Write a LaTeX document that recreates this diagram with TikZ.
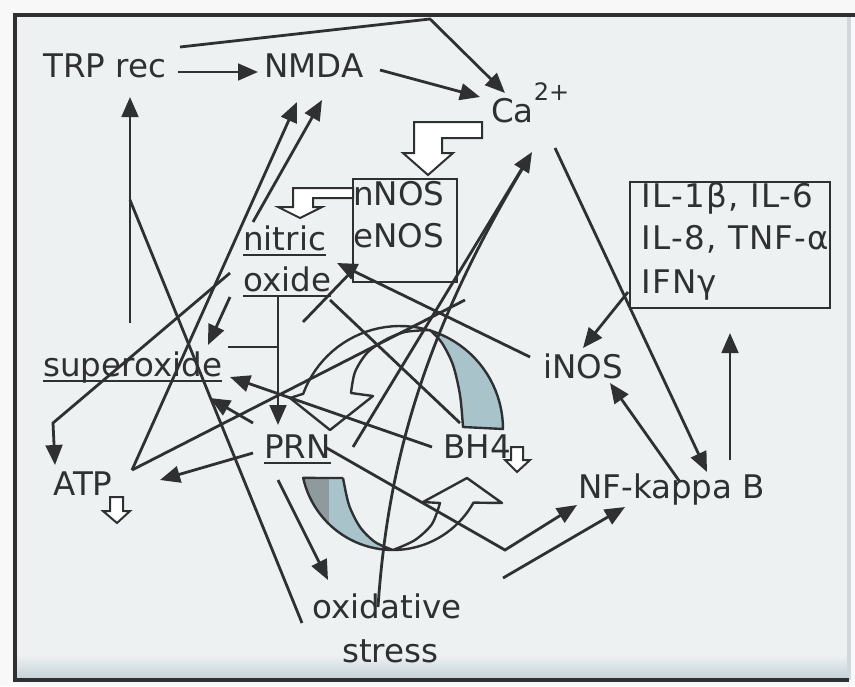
\documentclass[tikz,border=0pt]{standalone}
\usepackage{fontspec}
\setmainfont{DejaVu Sans}
\usetikzlibrary{arrows.meta}
\definecolor{ink}{HTML}{2E3032}
\definecolor{bgc}{HTML}{EEF1F2}
\definecolor{shadeA}{HTML}{A9C3CB}
\definecolor{shadeB}{HTML}{8F9A9F}
\definecolor{band}{HTML}{C6D3D9}
\definecolor{rimc}{HTML}{D0D8DC}
\definecolor{outside}{HTML}{F8F8F8}
\begin{document}
\begin{tikzpicture}[x=0.75pt,y=-0.75pt,
  lbl/.style={anchor=base west,inner sep=0pt,text=ink,font=\fontsize{24.4}{28}\selectfont},
  ln/.style={draw=ink,line width=2.1pt},
  arr/.style={ln,-{Triangle[length=15pt,width=12.5pt]}},
  hollow/.style={draw=ink,line width=1.5pt,fill=white,line join=miter},
  ulin/.style={draw=ink,line width=1.6pt},
  boxc/.style={draw=ink,line width=1.7pt},
  ribbon/.style={draw=ink,line width=1.8pt,line join=round}]

\useasboundingbox (0,0) rectangle (855,686);
\fill[outside] (0,0) rectangle (855,686);
\fill[bgc] (15,15) rectangle (849,680);
\shade[top color=bgc,bottom color=band] (17,655) rectangle (849,678);
\draw[rimc,line width=3pt] (849,15) -- (849,680);
\draw[ink,line width=3.6pt] (855,15) -- (15,15) -- (15,680) -- (849,680);

% ---------- shaded parts of the circular arrows ----------
\fill[shadeA] plot[domain=0:73.1,samples=25] ({400+103*cos(\x)},{429-103*sin(\x)})
  -- plot[smooth] coordinates {(430,330) (442,343) (453,365) (460,395) (463,427)} -- cycle;
\begin{scope}
  \clip plot[domain=192.5:270,samples=25] ({393+92*cos(\x)},{458-92*sin(\x)})
    -- plot[smooth] coordinates {(393,550) (375,542) (360,527) (349,505) (343,478)} -- cycle;
  \fill[shadeA] (290,470) rectangle (400,560);
  \fill[shadeB] (290,470) rectangle (329,560);
\end{scope}

% ---------- circular arrows outlines ----------
\draw[ribbon] plot[domain=0:160,samples=45] ({400+103*cos(\x)},{429-103*sin(\x)})
  -- (290,398) -- (330,430) -- (373,396) -- (351,393)
  -- plot[smooth] coordinates {(351,393) (355,372) (367,353) (385,340) (405,332) (430,330)}
  -- plot[smooth] coordinates {(430,330) (442,343) (453,365) (460,395) (463,427)} -- cycle;
\draw[ribbon] (343,478) -- plot[domain=192.5:331,samples=45] ({393+92*cos(\x)},{458-92*sin(\x)})
  -- (502,503) -- (467,478) -- (423,502) -- (440,503)
  -- plot[smooth] coordinates {(440,503) (432,524) (415,540) (393,550)}
  -- plot[smooth] coordinates {(393,550) (375,542) (360,527) (349,505) (343,478)};

% ---------- text nodes ----------
\node[lbl] (trp) at (43,77) {TRP rec};
\node[lbl] (nmda) at (264,77) {NMDA};
\node[lbl] (ca) at (491,122) {Ca\raisebox{16.5pt}{\fontsize{18}{18}\selectfont 2+}};
\node[lbl] (nnos) at (353,205) {nNOS};
\node[lbl] (enos) at (353,247) {eNOS};
\node[lbl] (nitric) at (243,250) {nitric};
\node[lbl] (oxide) at (243,291) {oxide};
\node[lbl] (sup) at (43,376) {superoxide};
\node[lbl] (atp) at (53,495) {ATP};
\node[lbl] (prn) at (264,458) {PRN};
\node[lbl] (bh) at (443,458) {BH4};
\node[lbl] (inos) at (543,378) {iNOS};
\node[lbl] (nfkb) at (578,498) {NF-kappa B};
\node[lbl,anchor=base] (oxs) at (387,618) {oxidative};
\node[lbl] (str) at (342,662) {stress};
\node[lbl] (il1) at (641,207) {\addfontfeature{LetterSpace=4}IL-1β, IL-6};
\node[lbl] (il2) at (641,249) {\addfontfeature{LetterSpace=4}IL-8, TNF-α};
\node[lbl] (il3) at (641,293) {\addfontfeature{LetterSpace=4}IFNγ};

% underlines
\foreach \n in {nitric,oxide,sup,prn}
  \draw[ulin] ([yshift=-4pt]\n.base west) -- ([yshift=-4pt]\n.base east);

% boxes
\draw[boxc] (353,179) rectangle (457,282);
\draw[boxc] (630,182) rectangle (830,308);

% ---------- hollow arrows ----------
\draw[hollow] (414,122) -- (482,122) -- (482,138) -- (442,138) -- (442,153) -- (453,153)
  -- (428,175) -- (403,153) -- (414,153) -- cycle;
\draw[hollow] (293,188) -- (353,188) -- (353,198) -- (313,198) -- (313,207) -- (322,207)
  -- (300,218) -- (278,207) -- (293,207) -- cycle;
\draw[hollow] (110,497) -- (123,497) -- (123,511) -- (130,511) -- (117,523) -- (103,511)
  -- (110,511) -- cycle;
\draw[hollow] (511,447) -- (523,447) -- (523,460) -- (530,460) -- (517,472) -- (505,460)
  -- (511,460) -- cycle;

% ---------- connector end points ----------
\coordinate (trpE) at (178,72);   \coordinate (nmdaW) at (258,72);
\coordinate (trpT) at (180,47);   \coordinate (topK) at (430,19);  \coordinate (caNW) at (505,93);
\coordinate (nmdaE) at (380,70);  \coordinate (caW) at (480,97);
\coordinate (supT) at (130,323);  \coordinate (trpS) at (130,97);
\coordinate (oxsW) at (302,623);  \coordinate (joinT) at (130,200);
\coordinate (atpF) at (132,470);  \coordinate (nmdaS1) at (297,102);
\coordinate (nitW) at (253,222);  \coordinate (nmdaS2) at (322,100);
\coordinate (noW) at (230,273);   \coordinate (bendA) at (53,423);  \coordinate (atpN) at (55,465);
\coordinate (noW2) at (230,297);  \coordinate (supE) at (208,345);
\coordinate (supJ) at (228,347);  \coordinate (vJ) at (278,347);
\coordinate (noS) at (278,296);   \coordinate (prnN) at (278,425);
\coordinate (bhW) at (432,447);   \coordinate (supR) at (230,377);
\coordinate (prnW) at (253,453);  \coordinate (atpE) at (160,480);
\coordinate (prnNW) at (253,423); \coordinate (supSE) at (210,398);
\coordinate (prnE) at (325,447);  \coordinate (bendB) at (505,550); \coordinate (nfW1) at (577,505);
\coordinate (oxsE) at (503,578);  \coordinate (nfW2) at (625,507);
\coordinate (caSE) at (555,148);  \coordinate (nfN) at (707,472);
\coordinate (nfNW) at (680,482);  \coordinate (inosSE) at (610,383);
\coordinate (ilW) at (628,292);   \coordinate (inosNE) at (583,348);
\coordinate (nfNE) at (730,460);  \coordinate (ilS) at (730,333);
\coordinate (inosW) at (530,357); \coordinate (oxideNE) at (337,263);
\coordinate (sA) at (303,322);    \coordinate (boxSW) at (353,270);
\coordinate (sB) at (330,300);    \coordinate (bhN) at (460,423);
\coordinate (atpR) at (465,300);
\coordinate (prnNE) at (353,447); \coordinate (caS) at (532,152);
\coordinate (oxsN) at (378,607);  \coordinate (caS2) at (527,161);
\coordinate (prnS) at (278,480);  \coordinate (oxsNW) at (328,580);

% ---------- connectors ----------
\draw[arr] (trpE) -- (nmdaW);
\draw[arr] (trpT) -- (topK) -- (caNW);
\draw[arr] (nmdaE) -- (caW);
\draw[arr] (supT) -- (trpS);
\draw[ln] (oxsW) -- (joinT);
\draw[arr] (atpF) -- (nmdaS1);
\draw[arr] (nitW) -- (nmdaS2);
\draw[arr] (noW) -- (bendA) -- (atpN);
\draw[arr] (noW2) -- (supE);
\draw[ln] (supJ) -- (vJ);
\draw[arr] (noS) -- (prnN);
\draw[arr] (bhW) -- (supR);
\draw[arr] (prnW) -- (atpE);
\draw[arr] (prnNW) -- (supSE);
\draw[arr] (prnE) -- (bendB) -- (nfW1);
\draw[arr] (oxsE) -- (nfW2);
\draw[arr] (caSE) -- (nfN);
\draw[arr] (nfNW) -- (inosSE);
\draw[arr] (ilW) -- (inosNE);
\draw[arr] (nfNE) -- (ilS);
\draw[arr] (inosW) -- (oxideNE);
\draw[ln] (sA) -- (boxSW);
\draw[ln] (sB) -- (bhN);
\draw[ln] (atpF) -- (atpR);
\draw[arr] (prnNE) -- (caS);
\draw[ln] (oxsN) .. controls (388,460) and (425,330) .. (caS2);
\draw[arr] (prnS) -- (oxsNW);
\end{tikzpicture}
\end{document}
